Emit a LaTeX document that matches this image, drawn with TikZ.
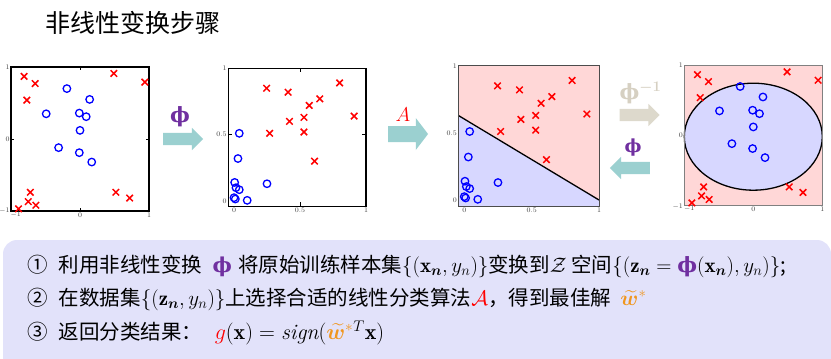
\RequirePackage{fix-cm}
\documentclass[tikz,border=0pt]{standalone}
\usepackage{amsmath}
\usepackage{bm}
\usepackage{fontspec}
\newfontfamily\cjk{Noto Sans CJK SC}
\newfontfamily\phifont{DejaVu Serif}
\usetikzlibrary{shapes.misc, shapes.arrows, positioning}

\definecolor{phipurple}{RGB}{112,48,160}
\definecolor{arrowteal}{RGB}{155,208,208}
\definecolor{arrowsand}{RGB}{221,217,204}
\definecolor{invsand}{RGB}{214,208,194}
\definecolor{panelblue}{RGB}{226,226,250}
\definecolor{regionred}{RGB}{255,215,215}
\definecolor{regionblue}{RGB}{215,215,255}
\definecolor{wstar}{RGB}{240,150,30}

\newcommand{\phib}{{\phifont\bfseries ϕ}}
\newcommand{\mth}[1]{{\fontsize{21}{24}\selectfont$#1$}}
% samples in the input space
\newcommand{\inxmarks}{-0.81/0.87, -0.65/0.77, -0.77/0.54, 0.49/0.91, 0.94/0.79, -0.72/-0.74, -0.75/-0.87, -0.64/-0.92, -0.89/-0.97, 0.52/-0.74, 0.72/-0.82}
\newcommand{\inomarks}{-0.19/0.70, 0.14/0.55, -0.49/0.35, -0.01/0.36, 0.09/0.31, 0.0/0.12, -0.31/-0.12, -0.01/-0.19, 0.17/-0.32}
% samples in the feature space
\newcommand{\zxmarks}{0.247/0.85, 0.41/0.82, 0.65/0.77, 0.80/0.89, 0.57/0.72, 0.53/0.63, 0.42/0.60, 0.91/0.64, 0.27/0.51, 0.53/0.52, 0.61/0.30}
\newcommand{\zomarks}{0.04/0.51, 0.03/0.32, 0.005/0.14, 0.015/0.10, 0.04/0.085, 0.0/0.025, 0.01/0.015, 0.10/0.005, 0.25/0.13}

\begin{document}
\begin{tikzpicture}[
    x=1pt, y=-1pt,
    xmark/.style={cross out, draw=red, line width=1.5pt, minimum size=5pt, inner sep=0pt},
    omark/.style={circle, draw=blue, line width=1.3pt, minimum size=7.5pt, inner sep=0pt},
    plotbox/.style={line width=1.1pt},
    ticklabel/.style={font=\fontsize{7}{8}\selectfont, text=black!75, inner sep=1.2pt},
    maparrow/.style={single arrow, fill=arrowteal, minimum height=40pt, inner xsep=0pt, inner ysep=6pt, single arrow head extend=5pt},
    maplabel/.style={font=\fontsize{21}{24}\selectfont, inner sep=0pt},
    steptext/.style={font=\cjk\fontsize{20.5}{24}\selectfont, anchor=base west, inner sep=0pt}]

\useasboundingbox (0,0) rectangle (831,359);

% Title
\node[anchor=west, font=\cjk\fontsize{25}{30}\selectfont, inner sep=0pt] (title) at (45,23) {非线性变换步骤};

% Input space
\begin{scope}[shift={(80,139)}, x=69pt, y=72pt]
  \draw[plotbox] (-1,-1) rectangle (1,1);
  \draw (0,-1) -- (0,-0.96) (0,1) -- (0,0.96) (-1,0) -- (-0.96,0) (1,0) -- (0.96,0);
  \node[ticklabel, left] (a1) at (-1,1) {1};
  \node[ticklabel, left] (a2) at (-1,0) {0};
  \node[ticklabel, left] (a3) at (-1,-1) {$-1$};
  \node[ticklabel, below] (a4) at (-0.93,-1) {$-1$};
  \node[ticklabel, below] (a5) at (0,-1) {0};
  \node[ticklabel, below] (a6) at (1,-1) {1};
  \foreach \u/\v [count=\k] in \inxmarks
    \node[xmark] (ax\k) at (\u,\v) {};
  \foreach \u/\v [count=\k] in \inomarks
    \node[omark] (ao\k) at (\u,\v) {};
\end{scope}

% Feature space
\begin{scope}[shift={(234,201)}, x=132pt, y=132.7pt]
  \draw[plotbox] (-0.045,-0.04) rectangle (1,1);
  \draw (0.5,-0.04) -- (0.5,-0.01) (0.5,1) -- (0.5,0.97) (-0.045,0.5) -- (-0.015,0.5) (1,0.5) -- (0.97,0.5);
  \node[ticklabel, left] (b1) at (-0.045,1) {1};
  \node[ticklabel, left] (b2) at (-0.045,0.5) {0.5};
  \node[ticklabel, left] (b3) at (-0.045,0) {0};
  \node[ticklabel, below] (b4) at (0,-0.04) {0};
  \node[ticklabel, below] (b5) at (0.5,-0.04) {0.5};
  \node[ticklabel, below] (b6) at (1,-0.04) {1};
  \foreach \u/\v [count=\k] in \zxmarks
    \node[xmark] (bx\k) at (\u,\v) {};
  \foreach \u/\v [count=\k] in \zomarks
    \node[omark] (bo\k) at (\u,\v) {};
\end{scope}

% Linear classifier in the feature space
\begin{scope}[shift={(464.3,200)}, x=134.7pt, y=134.3pt]
  \fill[regionred] (-0.045,-0.045) rectangle (1,1);
  \fill[regionblue] (-0.045,-0.045) -- (-0.045,0.63) -- (1,0) -- (1,-0.045) -- cycle;
  \draw[line width=1.3pt] (-0.045,0.63) -- (1,0);
  \draw[black!70, line width=0.6pt] (-0.045,-0.045) rectangle (1,1);
  \node[ticklabel, left] (c1) at (-0.045,1) {1};
  \node[ticklabel, left] (c2) at (-0.045,0.5) {0.5};
  \node[ticklabel, left] (c3) at (-0.045,0) {0};
  \node[ticklabel, below] (c4) at (0,-0.045) {0};
  \node[ticklabel, below] (c5) at (0.5,-0.045) {0.5};
  \node[ticklabel, below] (c6) at (1,-0.045) {1};
  \foreach \u/\v [count=\k] in \zxmarks
    \node[xmark] (cx\k) at (\u,\v) {};
  \foreach \u/\v [count=\k] in \zomarks
    \node[omark] (co\k) at (\u,\v) {};
\end{scope}

% Boundary back in the input space
\begin{scope}[shift={(753.3,135.3)}, x=69pt, y=69.7pt]
  \fill[regionred] (-1,-1) rectangle (1,1);
  \draw[fill=regionblue, line width=1.3pt] (0,-0.02) ellipse [x radius=69pt, y radius=53.5pt];
  \draw[black!50, line width=0.6pt] (-1,-1) rectangle (1,1);
  \node[ticklabel, left] (d1) at (-1,1) {1};
  \node[ticklabel, left] (d2) at (-1,0) {0};
  \node[ticklabel, left] (d3) at (-1,-1.02) {$-1$};
  \node[ticklabel, below] (d4) at (-0.93,-1) {$-1$};
  \node[ticklabel, below] (d5) at (0,-1) {0};
  \node[ticklabel, below] (d6) at (1,-1) {1};
  \foreach \u/\v [count=\k] in \inxmarks
    \node[xmark] (dx\k) at (\u,\v) {};
  \foreach \u/\v [count=\k] in \inomarks
    \node[omark] (do\k) at (\u,\v) {};
\end{scope}

% Mapping arrows
\node[maparrow] (phiarrow) at (180,139) {};
\node[maplabel, text=phipurple, above=6pt of phiarrow] (philabel) {\phib};
\node[maparrow, inner ysep=7.8pt, single arrow head extend=8pt, single arrow tip angle=105] (algarrow) at (405,134) {};
\node[maplabel, text=red, font=\fontsize{20}{24}\selectfont, above=4.5pt of algarrow, xshift=-2pt] (alglabel) {$A$};
\node[maparrow, fill=arrowsand] (invarrow) at (636.5,115) {};
\node[maplabel, text=invsand, above=4.5pt of invarrow, xshift=4pt] (invlabel) {\phib$^{\bm{-1}}$};
\node[maparrow, shape border rotate=180] (backarrow) at (633,168) {};
\node[maplabel, text=phipurple, font=\fontsize{18}{20}\selectfont, above=5pt of backarrow] (backlabel) {\phib};

% Steps
\fill[panelblue, rounded corners=14pt] (3,240) rectangle (831,375);
\node[steptext] (step1) at (27,272) {①\hspace{0.55em}利用非线性变换\hspace{0.5em}\textcolor{phipurple}{\phib}\hspace{0.3em}将原始训练样本集\mth{\{(\mathbf{x}_{\bm{n}},y_{n})\}}变换到\mth{\mathcal{Z}} 空间\mth{\{(\mathbf{z}_{\bm{n}}=\text{\color{phipurple}\phib}(\mathbf{x}_{\bm{n}}),y_{n})\}};};
\node[steptext] (step2) at (27,305.5) {②\hspace{0.55em}在数据集\mth{\{(\mathbf{z}_{\bm{n}},y_{n})\}}上选择合适的线性分类算法\textcolor{red}{\mth{\mathcal{A}}}，得到最佳解\hspace{0.45em}\textcolor{wstar}{\mth{\widetilde{\bm{w}}^{*}}}};
\node[steptext] (step3) at (27,339) {③\hspace{0.55em}返回分类结果：\hspace{0.6em}{\fontsize{22}{24}\selectfont$\textcolor{red}{g}(\mathbf{x})=\mathit{sign}(\textcolor{wstar}{\widetilde{\bm{w}}^{*}}^{T}\mathbf{x})$}};

\end{tikzpicture}
\end{document}
